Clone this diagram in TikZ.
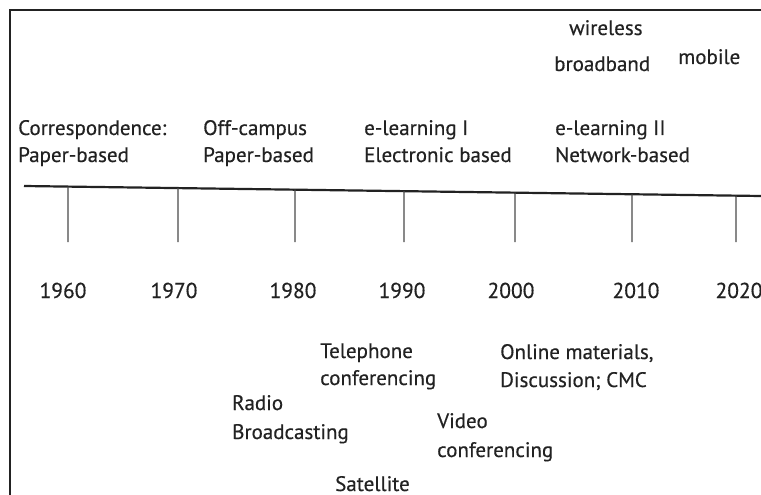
\documentclass[tikz,border=0pt]{standalone}
\usepackage{fontspec}
\setmainfont{PT Sans}
\newfontfamily\lblfont{PT Sans}[FakeBold=0.4]
\usetikzlibrary{calc}
\definecolor{ink}{HTML}{222222}
\definecolor{tickc}{HTML}{4A4A4A}
\begin{document}
\begin{tikzpicture}[x=1pt,y=-1pt,
  lbl/.style={anchor=base west,inner sep=0pt,text=ink,font=\lblfont\fontsize{21}{27}\selectfont},
  yr/.style={anchor=base,inner sep=0pt,text=ink,font=\lblfont\fontsize{21.5}{27}\selectfont},
  tickline/.style={draw=tickc,line width=1.4pt},
  frameline/.style={draw=ink,line width=1.8pt}]
\useasboundingbox (0,0) rectangle (761,495);
\fill[white] (0,0) rectangle (761,495);
% frame (left and top)
\coordinate (fb) at (10,495);
\coordinate (ft) at (10,10);
\coordinate (fr) at (761,10);
\draw[frameline] (fb) -- (ft) -- (fr);
% timeline
\coordinate (tl) at (24,186);
\coordinate (tr) at (761,196);
\draw[draw=ink,line width=2.2pt] (tl) -- (tr);
% ticks
\foreach \n/\x in {a/68,b/178,c/295,d/404,e/515,f/632,g/736}{
  \coordinate (t\n) at ($(tl)!{(\x-24)/737}!(tr)$);
  \coordinate (b\n) at (\x,242);
  \draw[tickline] (t\n) -- (b\n);
}
% upper labels
\node[lbl] (corr1) at (18,135) {Correspondence:};
\node[lbl] (corr2) at (18,162) {Paper-based};
\node[lbl] (off1) at (203,135) {Off-campus};
\node[lbl] (off2) at (203,162) {Paper-based};
\node[lbl] (el1) at (364,135) {e-learning I};
\node[lbl] (el2) at (364,162) {Electronic based};
\node[lbl] (ell1) at (555,135) {e-learning II};
\node[lbl] (ell2) at (555,162) {Network-based};
\node[lbl] (wl) at (569,35) {wireless};
\node[lbl] (bb) at (554,71) {broadband};
\node[lbl] (mob) at (678,64) {mobile};
% years
\node[yr] (y1960) at (63,298) {1960};
\node[yr] (y1970) at (174,298) {1970};
\node[yr] (y1980) at (293,298) {1980};
\node[yr] (y1990) at (402,298) {1990};
\node[yr] (y2000) at (511,298) {2000};
\node[yr] (y2010) at (636,298) {2010};
\node[yr] (y2020) at (739,298) {2020};
% lower labels
\node[lbl] (tel1) at (320,358) {Telephone};
\node[lbl] (tel2) at (320,385) {conferencing};
\node[lbl] (onl1) at (500,359) {Online materials,};
\node[lbl] (onl2) at (500,387) {Discussion; CMC};
\node[lbl] (rad1) at (232,410) {Radio};
\node[lbl] (rad2) at (232,439) {Broadcasting};
\node[lbl] (vid1) at (437,428) {Video};
\node[lbl] (vid2) at (437,457) {conferencing};
\node[lbl] (sat) at (335,491) {Satellite};
\end{tikzpicture}
\end{document}
